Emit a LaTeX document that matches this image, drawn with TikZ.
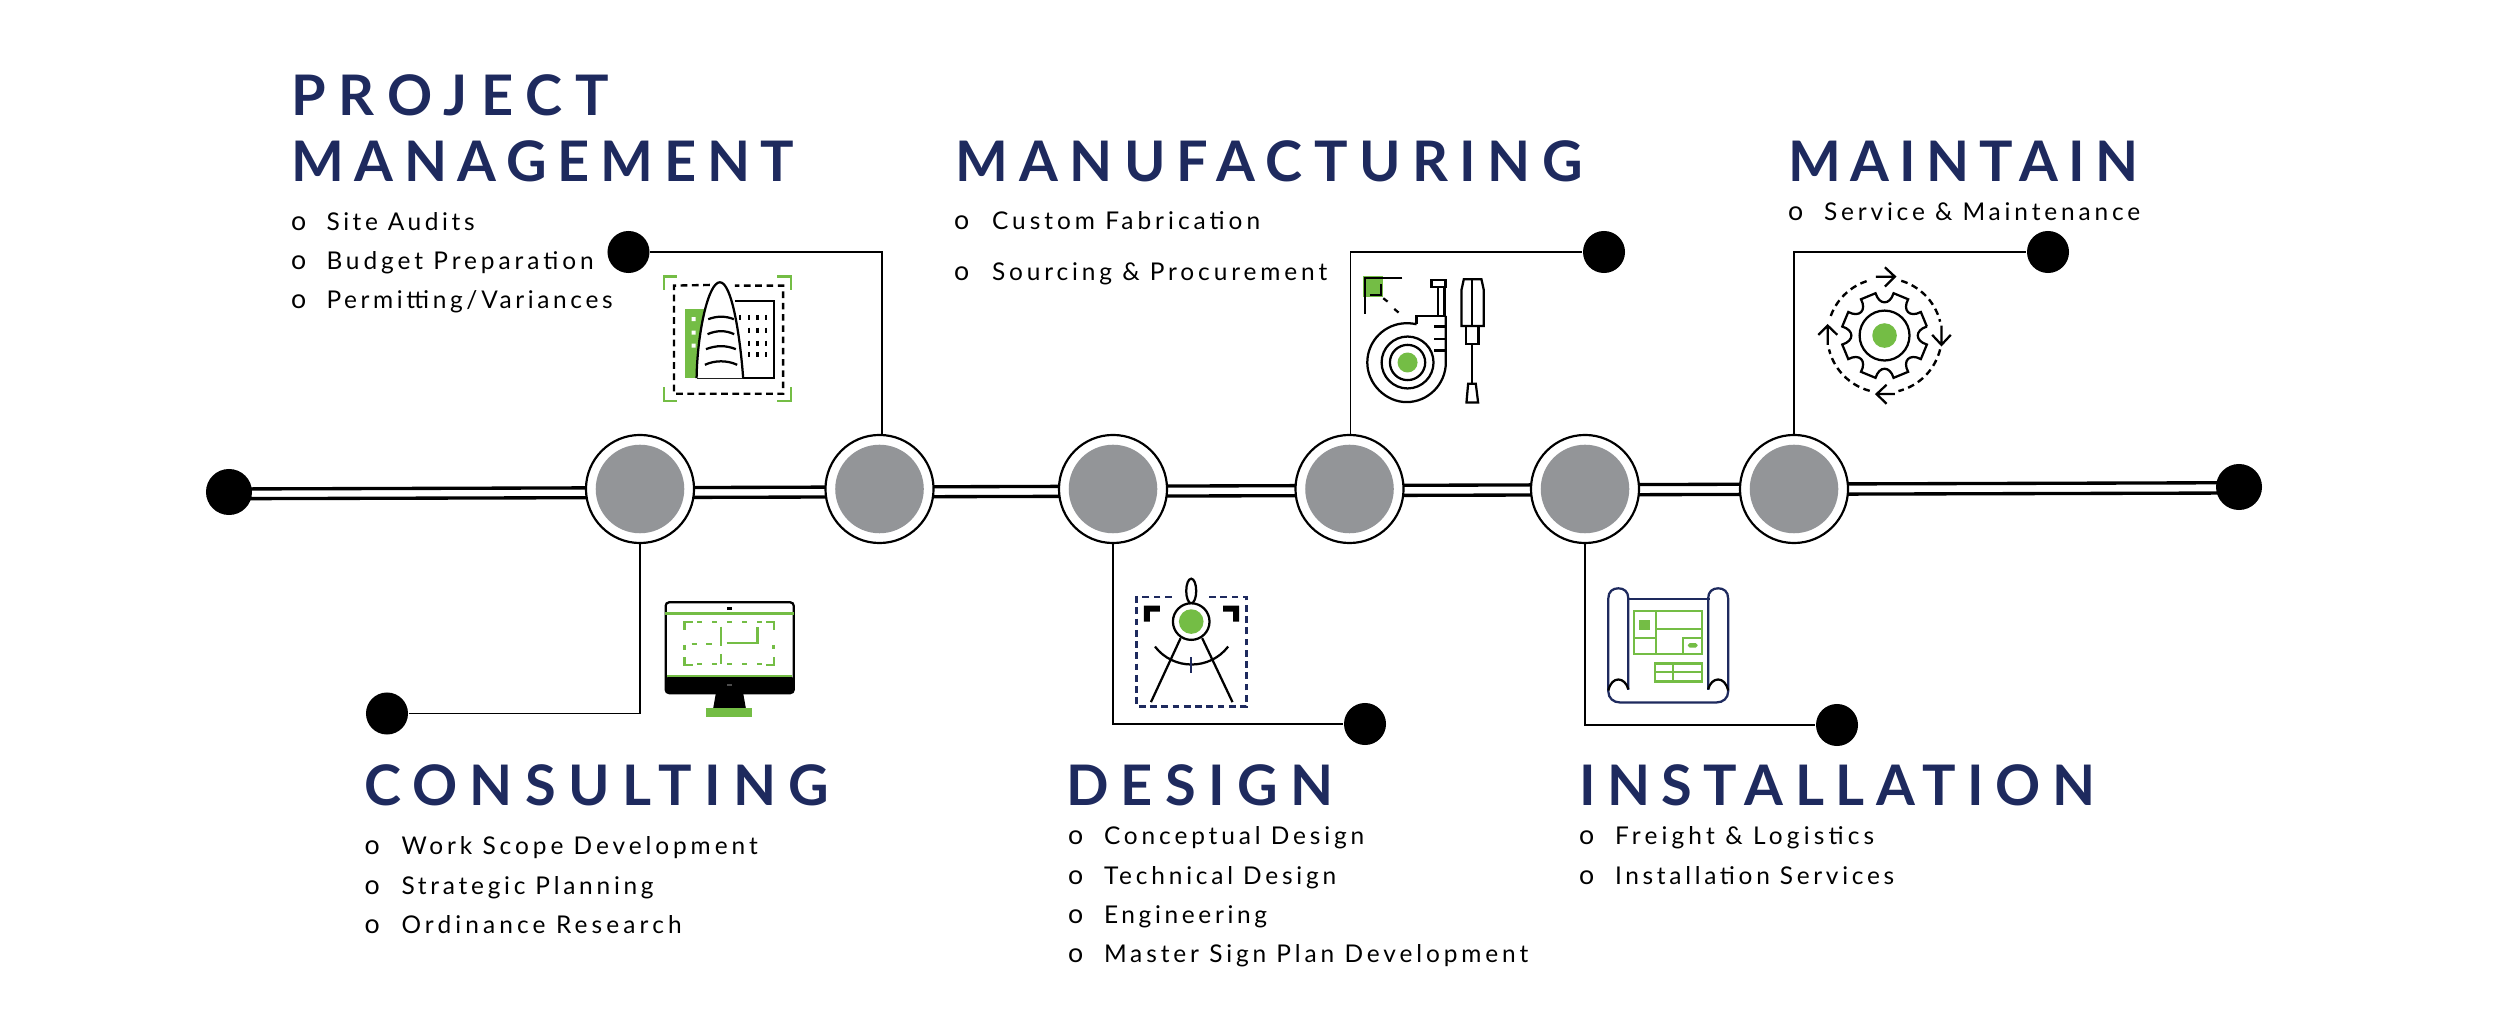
\documentclass[tikz,border=0pt]{standalone}
\usepackage{fontspec}
\setmainfont{Lato}
\definecolor{navy}{HTML}{1E2A5E}
\definecolor{leaf}{HTML}{74BD45}
\definecolor{disc}{HTML}{939598}
\newlength\wa \newlength\wb
\newcommand\fitw[2]{\setbox0\hbox{#2}\wa=\wd0\setbox0\hbox{\addfontfeature{LetterSpace=10}#2}\wb=\wd0\pgfmathsetmacro\lsv{10*(#1*0.28453-\wa)/(\wb-\wa)}\edef\tmpf{\noexpand\addfontfeature{LetterSpace=\lsv}}\tmpf #2}
\newcommand\ttl[5]{\node[ttlnode] (#1) at (#2,#3) {\fontsize{15.9}{18}\selectfont\bfseries\fitw{#4}{#5}};}
\newcommand\li[6]{\node[linode] (#1o) at (#2,#4) {\fontsize{7.6}{8}\selectfont o};\node[linode] (#1) at (#3,#4) {\fitw{#5}{#6}};}
\tikzset{
 ttlnode/.style={anchor=base west,inner sep=0pt,outer sep=0pt,text=navy},
 linode/.style={anchor=base west,inner sep=0pt,outer sep=0pt,text=black,font=\fontsize{6.95}{8}\selectfont},
 hub/.style={circle,draw=black,line width=.62pt,fill=white,minimum size=1.08cm,inner sep=0pt},
 hubin/.style={circle,fill=disc,minimum size=.885cm,inner sep=0pt},
 enddot/.style={circle,fill=black,minimum size=.46cm,inner sep=0pt},
 tipdot/.style={circle,fill=black,minimum size=.42cm,inner sep=0pt},
 rail/.style={line width=.95pt,black},
 conn/.style={line width=.55pt,black},
 ico/.style={line width=.64pt,black,line cap=butt,line join=miter},
 icoz/.style={shift={#1},x=0.0033333cm,y=-0.0033333cm},
 gr/.style={line width=.55pt,leaf},
 dsh/.style={line width=.68pt,dash pattern=on 1.9pt off 1.3pt},
}
\begin{document}
\begin{tikzpicture}[x=0.01cm,y=-0.01cm]
\useasboundingbox (0,0) rectangle (2500,1010);
\fill[white] (0,0) rectangle (2500,1010);
% end dots and rails
\node[enddot] (ld) at (229,492) {};
\node[enddot] (rd) at (2239,487) {};
\draw[rail] ([yshift=.03cm]ld.center) -- ([yshift=.043cm]rd.center);
\draw[rail] ([yshift=-.067cm]ld.center) -- ([yshift=-.06cm]rd.center);
% hubs
\foreach \n/\x/\y in {c1/640/489,c2/879.5/489,c3/1113/489,c4/1349.5/489,c5/1585/489,c6/1794/489}{
 \node[hub] (\n) at (\x,\y) {};
 \node[hubin] (\n i) at (\x,\y) {};
}
% connector tips
\node[tipdot] (d1) at (387,713.5) {};
\node[tipdot] (d2) at (628.5,252) {};
\node[tipdot] (d3) at (1365,724) {};
\node[tipdot] (d4) at (1604,252) {};
\node[tipdot] (d5) at (1837,725) {};
\node[tipdot] (d6) at (2048,252) {};
\draw[conn] (c1) |- (d1);
\draw[conn] ([xshift=.025cm]c2.north) |- (d2);
\draw[conn] (c3) |- (d3);
\draw[conn] ([xshift=.01cm]c4.north) |- (d4);
\draw[conn] (c5) |- (d5);
\draw[conn] (c6) |- (d6);
% titles
\ttl{t1a}{291}{116}{318}{PROJECT}
\ttl{t1b}{291}{182}{503}{MANAGEMENT}
\ttl{t2}{955}{182}{627}{MANUFACTURING}
\ttl{t3}{1788}{182}{350}{MAINTAIN}
\ttl{t4}{364}{805}{465}{CONSULTING}
\ttl{t5}{1066}{805}{267}{DESIGN}
\ttl{t6}{1579}{805}{516}{INSTALLATION}
% lists
\li{a1}{291}{326.5}{231}{148}{Site Audits}
\li{a2}{291}{326.5}{270}{267}{Budget Preparation}
\li{a3}{291}{326.5}{309}{286}{Permitting/Variances}
\li{b1}{954}{992}{230}{268}{Custom Fabrication}
\li{b2}{954}{992}{280.5}{335}{Sourcing \& Procurement}
\li{e1}{1788}{1824}{220.5}{316}{Service \& Maintenance}
\li{f1}{364.5}{401.5}{854.5}{356}{Work Scope Development}
\li{f2}{364.5}{401.5}{894.5}{252}{Strategic Planning}
\li{f3}{364.5}{401.5}{933.5}{280}{Ordinance Research}
\li{g1}{1068}{1104}{844}{260}{Conceptual Design}
\li{g2}{1068}{1104}{884}{232}{Technical Design}
\li{g3}{1068}{1104}{923}{163}{Engineering}
\li{g4}{1068}{1104}{962}{424}{Master Sign Plan Development}
\li{h1}{1579}{1615}{844}{259}{Freight \& Logistics}
\li{h2}{1579}{1615}{884}{279}{Installation Services}
% building icon
\begin{scope}[icoz={(640,250)}]
\draw[gr,line width=.7pt] (72,120)--(72,80)--(112,80);
\draw[gr,line width=.7pt] (413,80)--(453,80)--(453,120);
\draw[gr,line width=.7pt] (72,412)--(72,454)--(112,454);
\draw[gr,line width=.7pt] (413,454)--(453,454)--(453,412);
\draw[ico,dsh] (210,105)--(102,107)--(102,432)--(430,432)--(430,107)--(285,107);
\fill[leaf] (135,178) rectangle (192,385);
\fill[white] (155,202) rectangle (167,214) (155,242) rectangle (167,254) (155,281) rectangle (167,293);
\draw[ico] (285,153)--(402,153)--(402,385)--(170,385);
\filldraw[ico,fill=white] (170,385) .. controls (172,250) and (205,97) .. (240,97) .. controls (275,97) and (300,250) .. (310,385);
\draw[ico] (205,208) .. controls (230,198) and (258,198) .. (282,208);
\draw[ico] (203,253) .. controls (230,241) and (258,241) .. (283,253);
\draw[ico] (198,298) .. controls (230,286) and (258,286) .. (288,298);
\draw[ico] (195,345) .. controls (225,331) and (262,331) .. (292,345);
\foreach \xx in {327,353,379}{\foreach \yy in {195,233,272,308}{\draw[ico] (\xx,\yy)--(\xx,\yy+15);}}
\draw[ico] (300,195)--(300,210);
\end{scope}
% monitor icon
\begin{scope}[icoz={(640,580)}]
\draw[ico,rounded corners=1pt] (77,67) rectangle (462,340);
\fill[black,rounded corners=1pt] (77,290) rectangle (462,341);
\fill[black] (228,340)--(310,340)--(318,385)--(220,385)--cycle;
\fill[leaf] (198,385) rectangle (338,411);
\draw[gr,line width=.7pt] (76,100)--(462,100);
\draw[gr,line width=.7pt] (80,289)--(458,289);
\fill[black] (261,82) rectangle (275,89);
\fill[black!70] (261,314) rectangle (275,320);
\begin{scope}[gr,line width=.7pt]
\draw (133,150)--(133,127)--(158,127);
\draw (403,150)--(403,127)--(380,127);
\draw (133,232)--(133,255)--(158,255);
\draw (403,232)--(403,255)--(378,255);
\foreach \xx in {172,217,262,307,352}{\draw (\xx,127)--(\xx+15,127);\draw (\xx,253)--(\xx+15,253);}
\draw (133,195)--(133,210);\draw (401,195)--(401,208);
\draw (243,140)--(243,197);\draw (243,222)--(243,252);
\draw (155,192)--(170,192);\draw (199,192)--(215,192);
\draw (260,190)--(353,190)--(353,140);
\end{scope}
\end{scope}
% compass icon
\begin{scope}[icoz={(1120,570)}]
\draw[ico,navy,dsh] (155,82)--(50,82)--(50,410)--(380,410)--(380,82)--(260,82);
\fill[black] (72,107)--(120,107)--(120,125)--(90,125)--(90,155)--(72,155)--cycle;
\fill[black] (358,107)--(310,107)--(310,125)--(340,125)--(340,155)--(358,155)--cycle;
\draw[ico] (214,63) circle [x radius=15,y radius=37];
\draw[ico,fill=white] (214,155) circle [radius=55];
\fill[leaf] (214,155) circle [radius=37];
\draw[ico] (182,205)--(93,397);
\draw[ico] (247,205)--(338,397);
\draw[ico] (105,230) .. controls (160,302) and (270,302) .. (325,230);
\draw[ico,navy] (214,262)--(214,310);
\end{scope}
% tools icon
\begin{scope}[icoz={(1340,260)}]
\fill[leaf] (68,48) rectangle (130,110);
\draw[ico] (187,55)--(75,55)--(75,163);
\draw[ico] (90,105)--(123,105)--(123,72);
\draw[ico] (130,115)--(143,125);
\draw[ico] (163,147)--(176,158);
\draw[ico] (318,168)--(230,168)--(230,192);
\draw[ico] (230,193) .. controls (215,190) and (205,190) .. (200,190) .. controls (135,190) and (82,243) .. (82,308) .. controls (82,373) and (138,427) .. (200,427) .. controls (265,427) and (318,373) .. (318,308) -- (318,168);
\draw[ico] (203,308) circle [radius=78];
\draw[ico] (203,308) circle [radius=53];
\fill[leaf] (203,308) circle [radius=30];
\draw[ico] (283,200)--(318,200) (283,237)--(318,237) (283,272)--(318,272);
\draw[ico] (295,168)--(295,82) (314,168)--(314,82);
\draw[ico] (275,60) rectangle (317,82);
\draw[ico] (372,58)--(425,58)--(432,90)--(432,198)--(365,198)--(365,90)--cycle;
\draw[ico] (397,58)--(397,198);
\draw[ico] (378,198) rectangle (416,253);
\draw[ico] (397,253)--(397,372);
\draw[ico] (385,372)--(408,372)--(415,428)--(380,428)--cycle;
\end{scope}
% blueprint icon
\begin{scope}[icoz={(1600,570)}]
\draw[ico,navy] (85,360)--(85,85) .. controls (85,65) and (72,55) .. (55,55) .. controls (38,55) and (25,65) .. (25,85) -- (25,365) .. controls (25,385) and (40,398) .. (60,398) -- (350,398) .. controls (370,398) and (385,385) .. (385,365) -- (385,85) .. controls (385,65) and (372,55) .. (355,55) .. controls (338,55) and (325,65) .. (325,85) -- (325,360);
\draw[ico,navy] (85,87)--(330,87);
\draw[ico] (25,362) .. controls (30,340) and (42,329) .. (55,329) .. controls (68,329) and (80,340) .. (85,358);
\draw[ico] (325,358) .. controls (330,340) and (342,329) .. (355,329) .. controls (368,329) and (380,340) .. (385,362);
\begin{scope}[gr,line width=.6pt]
\draw (103,123) rectangle (306,253);
\draw (169,123)--(169,253) (169,178)--(306,178) (103,203)--(169,203);
\draw (306,203)--(249,203)--(249,253);
\draw (166,281) rectangle (307,335);
\draw (166,307)--(307,307) (220,281)--(220,335);
\end{scope}
\fill[leaf] (118,150) rectangle (149,180);
\fill[leaf,rounded corners=.5pt] (264,220) rectangle (293,233);
\end{scope}
% gear icon
\begin{scope}[icoz={(1810,260)}]
\draw[ico] (224,227) circle [radius=75];
\fill[leaf] (224,227) circle [radius=37];
\draw[ico,shift={(224,227)}] (-12:130)
 \foreach \a in {0,45,...,315}{ .. controls (\a-10:92) and (\a+10:92) .. (\a+12:130) -- (\a+33:130)} ;
\draw[ico,dsh] plot[domain=-73:-14,samples=30] ({224+172*cos(\x)},{227+172*sin(\x)});
\draw[ico,dsh] plot[domain=14:76,samples=30] ({224+172*cos(\x)},{227+172*sin(\x)});
\draw[ico,dsh] plot[domain=105:166,samples=30] ({224+172*cos(\x)},{227+172*sin(\x)});
\draw[ico,dsh] plot[domain=200:252,samples=30] ({224+172*cos(\x)},{227+172*sin(\x)});
\draw[ico] (198,50)--(255,50) (225,22)--(255,50)--(225,80);
\draw[ico] (395,197)--(395,255) (367,225)--(395,255)--(423,225);
\draw[ico] (255,403)--(200,403) (230,375)--(200,403)--(230,432);
\draw[ico] (53,255)--(53,197) (25,225)--(53,197)--(82,225);
\end{scope}
\end{tikzpicture}
\end{document}
